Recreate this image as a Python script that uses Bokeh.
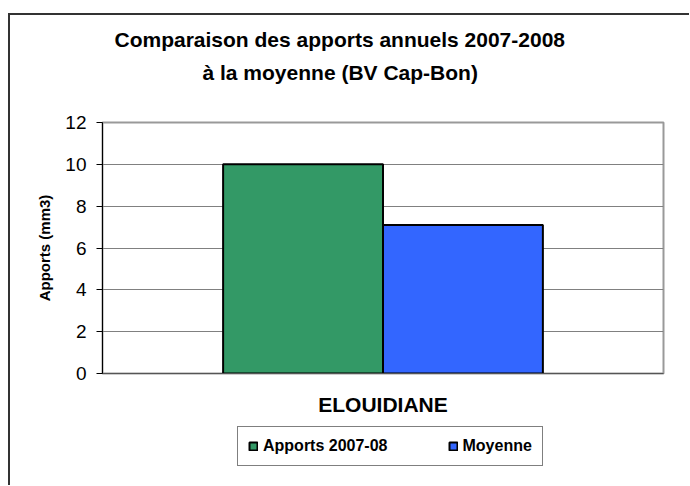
from bokeh.plotting import figure
from bokeh.layouts import column
from bokeh.models import (Range1d, FactorRange, Title, Legend, LegendItem,
                          FixedTicker, ColumnDataSource)
from bokeh.transform import dodge
from bokeh.embed import file_html
from bokeh.resources import INLINE

# ---- data ----
categories = ["ELOUIDIANE"]
apports_2007_08 = [10.0]
moyenne = [7.1]
series_names = ["Apports 2007-08", "Moyenne"]
series_colors = ["#339966", "#3366FF"]
y_ticks = [0, 2, 4, 6, 8, 10, 12]
title_lines = ["Comparaison des apports annuels 2007-2008",
               "\u00e0  la moyenne (BV Cap-Bon)"]
y_label = "Apports (mm3)"

FONT = "Liberation Sans"

frame_css = ("linear-gradient(#333333, #333333) 8px 13px / 2px 480px no-repeat, "
             "linear-gradient(#333333, #333333) 8px 13px / 690px 2px no-repeat, "
             "#ffffff")

p = figure(frame_width=561, frame_height=251,
           x_range=FactorRange(*categories), y_range=Range1d(0, 12),
           output_backend="svg", toolbar_location=None,
           min_border_left=102, min_border_right=26,
           min_border_top=122, min_border_bottom=50,
           background_fill_color="white", border_fill_alpha=0)

src = ColumnDataSource(dict(cat=categories, a=apports_2007_08, m=moyenne))
bw = 0.285
r1 = p.vbar(x=dodge("cat", -bw / 2, range=p.x_range), top="a", width=bw,
            source=src, fill_color=series_colors[0], line_color="black", line_width=2)
r2 = p.vbar(x=dodge("cat", bw / 2, range=p.x_range), top="m", width=bw,
            source=src, fill_color=series_colors[1], line_color="black", line_width=2)

# grid / outline
p.xgrid.visible = False
p.ygrid.ticker = FixedTicker(ticks=y_ticks)
p.ygrid.grid_line_color = "#808080"
p.ygrid.grid_line_width = 1
p.outline_line_color = "#999999"
p.outline_line_width = 2

# y axis
p.yaxis.ticker = FixedTicker(ticks=y_ticks)
p.yaxis.minor_tick_line_color = None
p.yaxis.major_tick_in = 0
p.yaxis.major_tick_out = 6
p.yaxis.major_tick_line_color = "black"
p.yaxis.axis_line_color = "black"
p.yaxis.major_label_text_font = FONT
p.yaxis.major_label_text_font_size = "19px"
p.yaxis.major_label_text_color = "black"
p.yaxis.major_label_standoff = 10
p.yaxis.axis_label = y_label
p.yaxis.axis_label_text_font = FONT
p.yaxis.axis_label_text_font_size = "15px"
p.yaxis.axis_label_text_font_style = "bold"
p.yaxis.axis_label_text_color = "black"
p.yaxis.axis_label_standoff = 9

# x axis
p.xaxis.major_tick_line_color = None
p.xaxis.major_tick_out = 0
p.xaxis.major_tick_in = 0
p.xaxis.axis_line_color = "#555555"
p.xaxis.major_label_text_font = FONT
p.xaxis.major_label_text_font_size = "21px"
p.xaxis.major_label_text_font_style = "bold"
p.xaxis.major_label_text_color = "black"
p.xaxis.major_label_standoff = 19

# title: spacer next to the frame, then line 2, then line 1 on top
p.add_layout(Title(text=" ", text_font=FONT, text_font_size="10px",
                   standoff=22), "above")
p.add_layout(Title(text=title_lines[1], align="left", offset=100,
                   standoff=8, text_font=FONT, text_font_size="21px",
                   text_font_style="bold", text_color="black"), "above")
p.add_layout(Title(text=title_lines[0], align="left", offset=12,
                   standoff=8, text_font=FONT, text_font_size="21px",
                   text_font_style="bold", text_color="black"), "above")

# ---- legend strip (small figure below, frame aligned with the main one) ----
p2 = figure(width=689, height=62, x_range=p.x_range, y_range=Range1d(50, 60),
            output_backend="svg", toolbar_location=None, min_border=0,
            x_axis_type=None, y_axis_type=None,
            background_fill_alpha=0, border_fill_alpha=0)
p2.grid.visible = False
p2.outline_line_color = None
# hidden copies of the two series, used only for the legend swatches
g1 = p2.vbar(x=dodge("cat", -bw / 2, range=p.x_range), top="a", width=bw,
             source=src, fill_color=series_colors[0], line_color="black",
             line_width=2, visible=False)
g2 = p2.vbar(x=dodge("cat", bw / 2, range=p.x_range), top="m", width=bw,
             source=src, fill_color=series_colors[1], line_color="black",
             line_width=2, visible=False)

legend = Legend(items=[LegendItem(label=series_names[0], renderers=[g1]),
                       LegendItem(label=series_names[1], renderers=[g2])],
                orientation="horizontal", location=(135, 19),
                label_text_font=FONT, label_text_font_size="16px",
                label_text_font_style="bold", label_text_color="black",
                glyph_width=10, glyph_height=10, label_standoff=5,
                spacing=60, padding=10, margin=0,
                border_line_color="black", border_line_width=1,
                background_fill_color="white",
                inactive_fill_alpha=0)
p2.add_layout(legend)

layout = column(p, p2, spacing=0, styles={"background": frame_css})

open("out.html", "w").write(file_html(layout, INLINE))
